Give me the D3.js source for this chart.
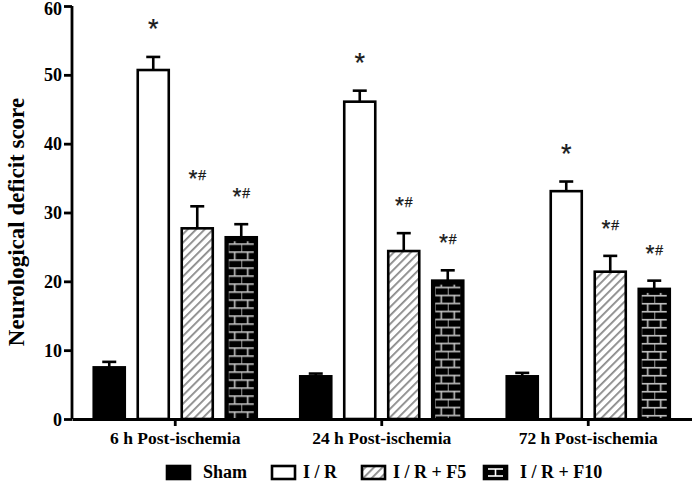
<!DOCTYPE html>
<html>
<head>
<meta charset="utf-8">
<script src="https://cdn.jsdelivr.net/npm/d3@7"></script>
<style>
    body { margin: 0; background: #fff; }
    svg { display: block; }
</style>
</head>
<body>
<div id="chart"></div>
<script>

//******************************************************************************
//**  Data
//******************************************************************************
var groups = ["6 h Post-ischemia", "24 h Post-ischemia", "72 h Post-ischemia"];
var seriesNames = ["Sham", "I / R", "I / R + F5", "I / R + F10"];

var shamValues = [7.5, 6.2, 6.2];
var shamErrors = [0.8, 0.4, 0.5];
var irValues = [50.7, 46.1, 33.1];
var irErrors = [1.9, 1.6, 1.4];
var f5Values = [27.7, 24.4, 21.4];
var f5Errors = [3.2, 2.6, 2.3];
var f10Values = [26.4, 20.1, 18.9];
var f10Errors = [1.9, 1.5, 1.2];

var irMarks = ["*", "*", "*"];
var f5Marks = ["*#", "*#", "*#"];
var f10Marks = ["*#", "*#", "*#"];

var yTicks = [0, 10, 20, 30, 40, 50, 60];
var yTitle = "Neurological deficit score";


//******************************************************************************
//**  Chart
//******************************************************************************
var width = 692, height = 481;
var serif = "'Liberation Serif', 'Times New Roman', serif";
var sans = "'Liberation Sans', Arial, sans-serif";

var series = [
    {name: seriesNames[0], values: shamValues, errors: shamErrors, marks: null, fill: "solid"},
    {name: seriesNames[1], values: irValues, errors: irErrors, marks: irMarks, fill: "white"},
    {name: seriesNames[2], values: f5Values, errors: f5Errors, marks: f5Marks, fill: "hatch"},
    {name: seriesNames[3], values: f10Values, errors: f10Errors, marks: f10Marks, fill: "brick"}
];

var svg = d3.select("#chart").append("svg")
    .attr("width", width)
    .attr("height", height);

var defs = svg.append("defs");

var x0 = d3.scaleBand()
    .domain(groups)
    .range([72, 691.5]);

var x1 = d3.scaleBand()
    .domain(seriesNames)
    .range([x0.bandwidth()/2 - 88, x0.bandwidth()/2 + 88])
    .paddingInner(0.295)
    .paddingOuter(0.1475);

var y = d3.scaleLinear()
    .domain([0, 60])
    .range([419, 6]);


//Hatch pattern
var hatch = defs.append("pattern")
    .attr("id", "hatch")
    .attr("patternUnits", "userSpaceOnUse")
    .attr("width", 6)
    .attr("height", 6)
    .attr("patternTransform", "rotate(45)");
hatch.append("rect").attr("width", 6).attr("height", 6).attr("fill", "#fff");
hatch.append("line")
    .attr("x1", 0).attr("y1", 0).attr("x2", 0).attr("y2", 6)
    .attr("stroke", "#8a8a8a").attr("stroke-width", 3.6);


//Brick pattern (one per bar so the bricks line up with the bar centre)
var brickPattern = function(id, cx, top){
    var bw = 13, bh = 16;
    var p = defs.append("pattern")
        .attr("id", id)
        .attr("patternUnits", "userSpaceOnUse")
        .attr("x", cx).attr("y", top)
        .attr("width", bw).attr("height", bh);
    p.append("rect").attr("width", bw).attr("height", bh).attr("fill", "#000");
    var g = p.append("g").attr("stroke", "#c4c4c4").attr("stroke-width", 1.6);
    g.append("line").attr("x1", 0).attr("x2", bw).attr("y1", 0.8).attr("y2", 0.8);
    g.append("line").attr("x1", 0).attr("x2", bw).attr("y1", 8.8).attr("y2", 8.8);
    g.append("line").attr("x1", 0).attr("x2", 0).attr("y1", 0).attr("y2", 8);
    g.append("line").attr("x1", bw/2).attr("x2", bw/2).attr("y1", 8).attr("y2", 16);
    return "url(#" + id + ")";
};


//Axes
var yAxis = svg.append("g")
    .attr("transform", "translate(72,0)")
    .call(d3.axisLeft(y).tickValues(yTicks).tickSize(8).tickPadding(2));

var xAxis = svg.append("g")
    .attr("transform", "translate(0,419)")
    .call(d3.axisBottom(x0).tickSize(7).tickPadding(6).tickSizeOuter(0));

[yAxis, xAxis].forEach(function(a){
    a.select(".domain").attr("stroke-width", 2.8);
    a.selectAll(".tick line").attr("stroke-width", 2.8);
    a.selectAll("text")
        .attr("font-family", serif)
        .attr("font-weight", "bold")
        .attr("fill", "#000");
});
yAxis.selectAll("text").attr("font-size", 18).attr("dy", "0.34em");
yAxis.selectAll(".tick text").filter(function(d){ return d === 60; }).attr("dy", "0.48em");
xAxis.selectAll("text").attr("font-size", 17.5);
yAxis.select(".domain").attr("d", "M0," + y(60) + "V" + y(0));


//Y title
svg.append("text")
    .attr("transform", "translate(24," + 222 + ") rotate(-90)")
    .attr("text-anchor", "middle")
    .attr("font-family", serif)
    .attr("font-weight", "bold")
    .attr("font-size", 23)
    .text(yTitle);


//Bars
var bars = svg.append("g");
series.forEach(function(s, si){
    groups.forEach(function(grp, gi){
        var bx = x0(grp) + x1(s.name);
        var bw = x1.bandwidth();
        var top = y(s.values[gi]);
        var errTop = y(s.values[gi] + s.errors[gi]);
        var cx = bx + bw/2;
        var g = bars.append("g");

      //Error bar
        g.append("line")
            .attr("x1", cx).attr("x2", cx)
            .attr("y1", top).attr("y2", errTop)
            .attr("stroke", "#000").attr("stroke-width", 2.6);
        g.append("line")
            .attr("x1", cx - 7).attr("x2", cx + 7)
            .attr("y1", errTop).attr("y2", errTop)
            .attr("stroke", "#000").attr("stroke-width", 2.6);

      //Bar
        var fill = "#000";
        if (s.fill === "white") fill = "#fff";
        if (s.fill === "hatch") fill = "url(#hatch)";
        g.append("rect")
            .attr("x", bx).attr("y", top)
            .attr("width", bw).attr("height", y(0) - top)
            .attr("fill", fill)
            .attr("stroke", "#000").attr("stroke-width", 2.6);

        if (s.fill === "brick"){
            g.append("rect")
                .attr("x", bx + 3).attr("y", top + 4)
                .attr("width", bw - 6).attr("height", y(0) - top - 5)
                .attr("fill", brickPattern("brick" + gi, cx, top + 6));
        }

      //Significance marks
        if (s.marks){
            var m = s.marks[gi];
            var t = g.append("text")
                .attr("x", cx)
                .attr("y", errTop - 19)
                .attr("text-anchor", "middle")
                .attr("font-family", sans)
                .attr("fill", "#1a1a1a")
                .attr("stroke", "#1a1a1a")
                .attr("stroke-width", 0.25);
            t.append("tspan").attr("font-size", m.length > 1 ? 23 : 27).text(m.charAt(0));
            if (m.length > 1){
                t.append("tspan")
                    .attr("font-size", 14)
                    .attr("dx", 1)
                    .attr("dy", -7)
                    .text(m.substring(1));
            }
        }
    });
});


//Legend
var legendSwatchX = [167, 272, 362, 484];
var legendTextX = [203, 303, 393, 520];
var legend = svg.append("g");
series.forEach(function(s, i){
    var lx = legendSwatchX[i];
    var sw = 23, sh = 13, ly = 466;
    var fill = "#000";
    if (s.fill === "white") fill = "#fff";
    if (s.fill === "hatch") fill = "url(#hatch)";
    legend.append("rect")
        .attr("x", lx).attr("y", ly)
        .attr("width", sw).attr("height", sh)
        .attr("fill", fill)
        .attr("stroke", "#000").attr("stroke-width", 2.6);
    if (s.fill === "brick"){
        var cx = lx + sw/2;
        legend.append("g").attr("stroke", "#fff").attr("stroke-width", 1.6)
            .call(function(g){
                g.append("line").attr("x1", lx + 4).attr("x2", lx + sw - 4).attr("y1", ly + 3).attr("y2", ly + 3);
                g.append("line").attr("x1", lx + 4).attr("x2", lx + sw - 4).attr("y1", ly + sh - 3).attr("y2", ly + sh - 3);
                g.append("line").attr("x1", cx).attr("x2", cx).attr("y1", ly + 3).attr("y2", ly + sh - 3);
            });
    }
    legend.append("text")
        .attr("x", legendTextX[i])
        .attr("y", ly + 12)
        .attr("font-family", serif)
        .attr("font-weight", "bold")
        .attr("font-size", 18)
        .text(s.name);
});

</script>
</body>
</html>
